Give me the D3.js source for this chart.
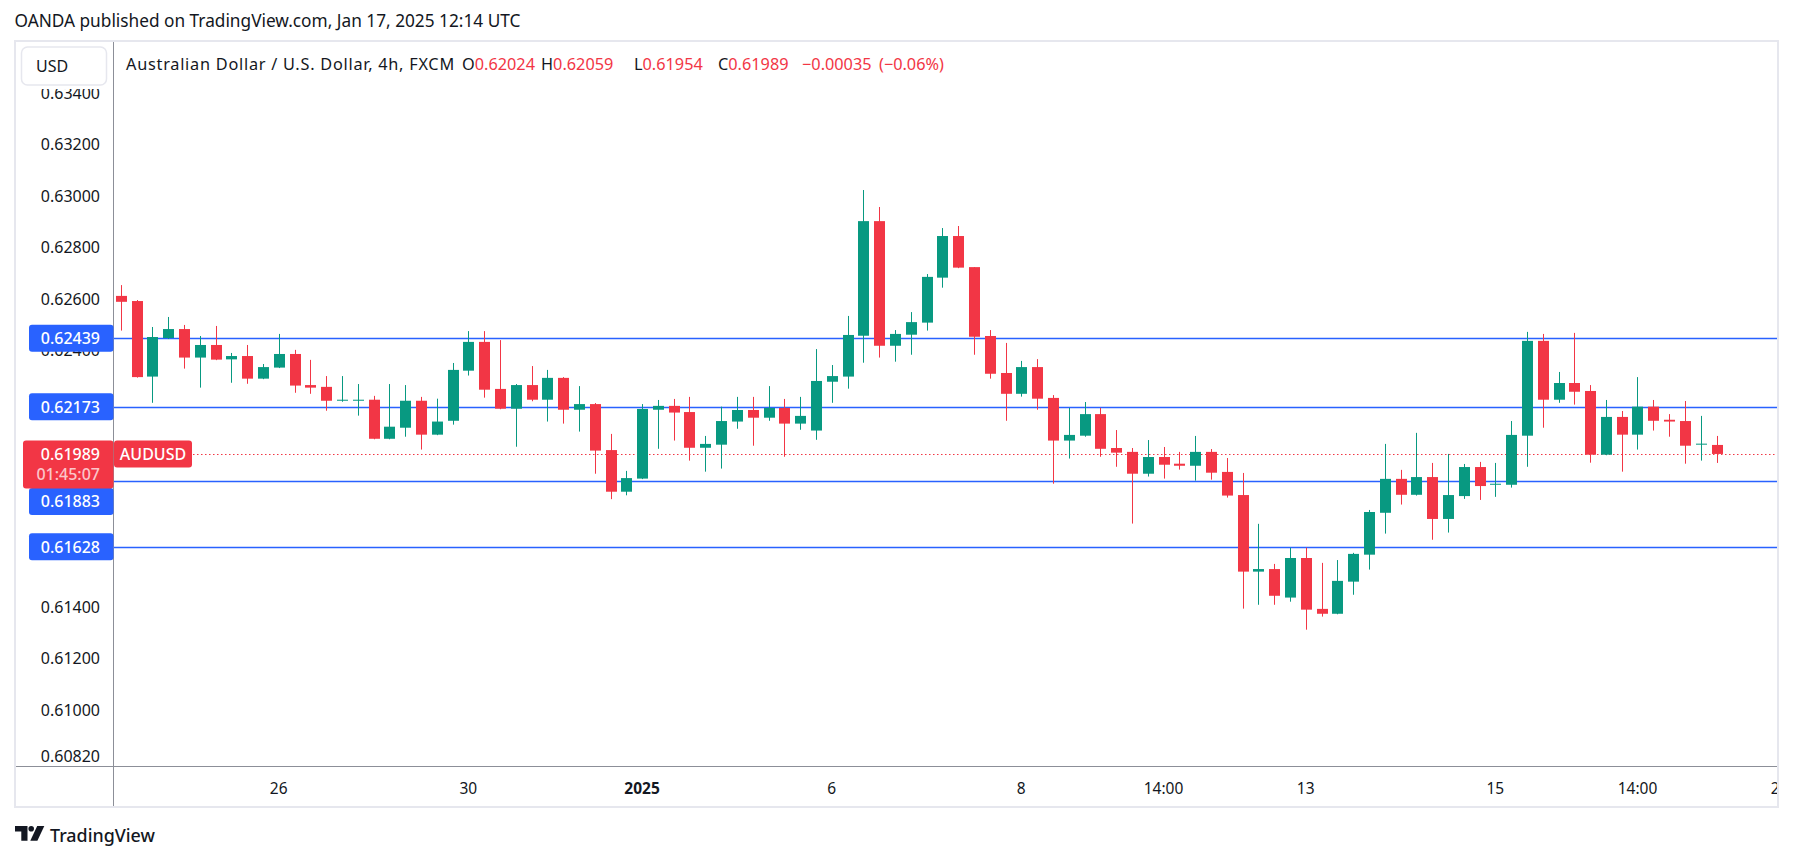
<!DOCTYPE html>
<html><head><meta charset="utf-8">
<script src="https://cdn.jsdelivr.net/npm/d3@7"></script>
<style>
html,body{margin:0;padding:0;background:#ffffff;}
svg{display:block;}
text{font-family:"Noto Sans","Open Sans",sans-serif;}
</style></head><body>
<svg id="chart" width="1793" height="861"></svg>
<script>
// ---------------- DATA ----------------
const opens = [0.62604,0.62584,0.62290,0.62440,0.62475,0.62364,0.62413,0.62357,0.62370,0.62282,
0.62325,0.62378,0.62257,0.62250,0.62196,0.62196,0.62200,0.62048,0.62091,0.62196,
0.62064,0.62118,0.62313,0.62425,0.62242,0.62165,0.62257,0.62200,0.62285,0.62161,
0.62183,0.62004,0.61842,0.61893,0.62161,0.62176,0.62152,0.62013,0.62025,0.62115,
0.62160,0.62130,0.62168,0.62107,0.62080,0.62270,0.62290,0.62449,0.62895,0.62410,
0.62453,0.62500,0.62675,0.62837,0.62716,0.62448,0.62304,0.62223,0.62327,0.62207,
0.62041,0.62060,0.62144,0.62012,0.61997,0.61912,0.61977,0.61951,0.61943,0.61997,
0.61919,0.61829,0.61531,0.61541,0.61430,0.61584,0.61386,0.61367,0.61492,0.61597,
0.61760,0.61892,0.61830,0.61899,0.61736,0.61825,0.61938,0.61869,0.61869,0.62060,
0.62429,0.62200,0.62265,0.62234,0.61986,0.62133,0.62064,0.62173,0.62122,0.62117,
0.62025,0.62024];
const highs = [0.62646,0.62588,0.62483,0.62522,0.62491,0.62448,0.62487,0.62382,0.62413,0.62339,
0.62456,0.62394,0.62355,0.62292,0.62292,0.62261,0.62215,0.62261,0.62257,0.62211,
0.62204,0.62343,0.62467,0.62467,0.62432,0.62261,0.62331,0.62316,0.62288,0.62253,
0.62187,0.62067,0.61923,0.62183,0.62199,0.62203,0.62211,0.62059,0.62173,0.62211,
0.62211,0.62253,0.62203,0.62211,0.62397,0.62335,0.62526,0.63016,0.62950,0.62471,
0.62541,0.62689,0.62868,0.62876,0.62716,0.62471,0.62421,0.62351,0.62358,0.62218,
0.62168,0.62191,0.62168,0.62082,0.62012,0.62043,0.62016,0.61997,0.62059,0.62008,
0.61973,0.61915,0.61717,0.61561,0.61624,0.61624,0.61565,0.61576,0.61604,0.61771,
0.62028,0.61927,0.62071,0.61954,0.61989,0.61950,0.61958,0.61954,0.62117,0.62464,
0.62456,0.62308,0.62460,0.62257,0.62199,0.62156,0.62288,0.62199,0.62144,0.62195,
0.62137,0.62059];
const lows = [0.62469,0.62286,0.62188,0.62436,0.62321,0.62247,0.62354,0.62266,0.62262,0.62280,
0.62323,0.62227,0.62223,0.62157,0.62192,0.62138,0.62046,0.62046,0.62056,0.62006,
0.62062,0.62103,0.62294,0.62208,0.62163,0.62017,0.62194,0.62115,0.62107,0.62076,
0.61912,0.61813,0.61828,0.61891,0.62009,0.62041,0.61963,0.61920,0.61932,0.62087,
0.62021,0.62118,0.61978,0.62083,0.62044,0.62188,0.62243,0.62344,0.62364,0.62348,
0.62375,0.62469,0.62636,0.62712,0.62375,0.62282,0.62118,0.62212,0.62161,0.61873,
0.61971,0.62056,0.61978,0.61939,0.61718,0.61901,0.61893,0.61928,0.61885,0.61889,
0.61819,0.61387,0.61402,0.61402,0.61414,0.61305,0.61356,0.61365,0.61441,0.61539,
0.61679,0.61792,0.61827,0.61655,0.61683,0.61814,0.61810,0.61822,0.61858,0.61939,
0.62091,0.62188,0.62181,0.61955,0.61984,0.61920,0.62006,0.62080,0.62056,0.61951,
0.61963,0.61954];
const closes = [0.62581,0.62288,0.62444,0.62475,0.62364,0.62413,0.62356,0.62370,0.62282,0.62327,
0.62378,0.62255,0.62247,0.62196,0.62200,0.62200,0.62048,0.62095,0.62196,0.62064,
0.62115,0.62316,0.62425,0.62239,0.62165,0.62257,0.62200,0.62285,0.62161,0.62183,
0.62002,0.61842,0.61895,0.62164,0.62176,0.62150,0.62013,0.62028,0.62117,0.62160,
0.62130,0.62168,0.62107,0.62137,0.62273,0.62292,0.62452,0.62895,0.62410,0.62456,
0.62502,0.62678,0.62837,0.62714,0.62445,0.62301,0.62223,0.62327,0.62204,0.62041,
0.62063,0.62144,0.62009,0.61994,0.61912,0.61977,0.61947,0.61943,0.61997,0.61916,
0.61827,0.61531,0.61541,0.61437,0.61584,0.61383,0.61367,0.61495,0.61600,0.61763,
0.61892,0.61830,0.61899,0.61736,0.61829,0.61938,0.61864,0.61873,0.62063,0.62429,
0.62200,0.62265,0.62231,0.61986,0.62133,0.62064,0.62173,0.62118,0.62115,0.62021,
0.62029,0.61989];

// visible price-scale ticks (others are covered by the price labels)
const priceTicks = [0.634,0.632,0.630,0.628,0.626,0.624,0.614,0.612,0.610,0.6082];
const timeTickIndex = [10,22,33,45,57,66,75,87,96,105];
const timeTickLabels = ["26","30","2025","6","8","14:00","13","15","14:00","20"];
const boldTimeLabels = ["2025"];
const levelLines = [0.62439,0.62173,0.61883,0.61628];
const lastPrice = 0.61989;
const countdown = "01:45:07";
const symbolName = "AUDUSD";
const currency = "USD";
const titleText = "OANDA published on TradingView.com, Jan 17, 2025 12:14 UTC";
const legendName = "Australian Dollar / U.S. Dollar, 4h, FXCM";
const legendKeys = ["O","H","L","C"];
const legendVals = [0.62024, 0.62059, 0.61954, 0.61989];
const legendChange = "\u22120.00035", legendPct = "(\u22120.06%)";

// ---------------- STYLE ----------------
const UP = "#089981", DOWN = "#F23645", BLUE = "#2962FF", INK = "#131722";
const AXIS = "#8C8F98", BORDER = "#E6E7EE";
const fmt = d3.format(".5f");

const svg = d3.select("#chart");
const plot = {x0:113, x1:1777, y0:42, y1:766};

const x = d3.scaleLinear().domain([0, 101]).range([120.7, 1716.5]);
const y = d3.scaleLinear().domain([0.61628, 0.62439]).range([546.7, 338.3]);

const defs = svg.append("defs");
defs.append("clipPath").attr("id","plotClip").append("rect")
  .attr("x", plot.x0+1).attr("y", plot.y0).attr("width", plot.x1-plot.x0-1).attr("height", plot.y1-plot.y0);
defs.append("clipPath").attr("id","timeClip").append("rect")
  .attr("x", plot.x0+1).attr("y", plot.y1).attr("width", plot.x1-plot.x0-1).attr("height", 41);
defs.append("clipPath").attr("id","axisClip").append("rect")
  .attr("x", 16).attr("y", 89).attr("width", 96).attr("height", plot.y1-89);

// background
svg.append("rect").attr("width",1793).attr("height",861).attr("fill","#fff");

// price tick labels
svg.append("g").attr("clip-path","url(#axisClip)")
  .selectAll("text").data(priceTicks).join("text")
  .attr("x", 100).attr("y", d => y(d) + 7.6)
  .attr("text-anchor","end").attr("font-size", 16).attr("fill", INK)
  .text(d => fmt(d));

// time labels
svg.append("g").attr("clip-path","url(#timeClip)")
  .selectAll("text").data(timeTickIndex).join("text")
  .attr("x", d => x(d)).attr("y", 793.7)
  .attr("text-anchor","middle").attr("font-size", 15.5).attr("fill", INK)
  .attr("font-weight", (d,i) => boldTimeLabels.includes(timeTickLabels[i]) ? 700 : 400)
  .text((d,i) => timeTickLabels[i]);

// plot content
const pg = svg.append("g").attr("clip-path","url(#plotClip)");

// level lines
pg.selectAll("line.level").data(levelLines).join("line").attr("class","level")
  .attr("x1", plot.x0).attr("x2", plot.x1)
  .attr("y1", d => Math.round(y(d)) + 0.5).attr("y2", d => Math.round(y(d)) + 0.5)
  .attr("stroke", BLUE).attr("stroke-width", 1.3);

// last price dotted line
pg.append("line")
  .attr("x1", plot.x0).attr("x2", plot.x1)
  .attr("y1", Math.round(y(lastPrice)) + 0.5).attr("y2", Math.round(y(lastPrice)) + 0.5)
  .attr("stroke", DOWN).attr("stroke-width", 1.2).attr("stroke-dasharray","1.5,2.5");

// candles
const idx = d3.range(opens.length);
const cg = pg.append("g");
cg.selectAll("line.wick").data(idx).join("line").attr("class","wick")
  .attr("x1", i => Math.round(x(i)) + 0.5).attr("x2", i => Math.round(x(i)) + 0.5)
  .attr("y1", i => y(highs[i])).attr("y2", i => y(lows[i]))
  .attr("stroke", i => closes[i] >= opens[i] ? UP : DOWN).attr("stroke-width", 1);
cg.selectAll("rect.body").data(idx).join("rect").attr("class","body")
  .attr("x", i => Math.round(x(i)) - 5).attr("width", 11)
  .attr("y", i => y(Math.max(opens[i], closes[i])))
  .attr("height", i => Math.max(1, Math.abs(y(opens[i]) - y(closes[i]))))
  .attr("fill", i => closes[i] >= opens[i] ? UP : DOWN);

// axis separator lines & frame
svg.append("line").attr("x1", 113.5).attr("x2", 113.5).attr("y1", 41).attr("y2", 807)
  .attr("stroke", AXIS).attr("stroke-width", 1);
svg.append("line").attr("x1", 15).attr("x2", 1778).attr("y1", 766.5).attr("y2", 766.5)
  .attr("stroke", AXIS).attr("stroke-width", 1);
svg.append("rect").attr("x", 15).attr("y", 41).attr("width", 1763).attr("height", 766)
  .attr("fill","none").attr("stroke", BORDER).attr("stroke-width", 2);

// level price labels (with collision nudge like TradingView)
const lastY = y(lastPrice);
const labelG = svg.append("g");
levelLines.forEach(v => {
  let cy = y(v);
  if (Math.abs(cy - (lastY + 11)) < 38 && cy > lastY) cy = lastY + 11 + 36.5; // pushed below red box
  labelG.append("rect").attr("x", 29).attr("y", cy - 13.5).attr("width", 84.5).attr("height", 27)
    .attr("rx", 3).attr("fill", BLUE);
  labelG.append("text").attr("x", 100).attr("y", cy + 6).attr("text-anchor","end")
    .attr("font-size", 16).attr("font-weight", 500).attr("fill","#fff").text(fmt(v));
});

// last price label (red box with countdown)
labelG.append("rect").attr("x", 23).attr("y", lastY - 13.5).attr("width", 90.5).attr("height", 48)
  .attr("rx", 3).attr("fill", DOWN);
labelG.append("text").attr("x", 100).attr("y", lastY + 5.8).attr("text-anchor","end")
  .attr("font-size", 16).attr("font-weight", 500).attr("fill","#fff").text(fmt(lastPrice));
labelG.append("text").attr("x", 100).attr("y", lastY + 26.5).attr("text-anchor","end")
  .attr("font-size", 16).attr("font-weight", 500).attr("fill","#fff").attr("fill-opacity", 0.72).text(countdown);
// symbol label
labelG.append("rect").attr("x", 114).attr("y", lastY - 13.5).attr("width", 78).attr("height", 27)
  .attr("rx", 3).attr("fill", DOWN);
labelG.append("text").attr("x", 153).attr("y", lastY + 6).attr("text-anchor","middle")
  .attr("font-size", 16).attr("font-weight", 500).attr("fill","#fff").text(symbolName);

// currency box
svg.append("rect").attr("x", 21.5).attr("y", 47).attr("width", 85).attr("height", 38)
  .attr("rx", 6).attr("fill","#fff").attr("stroke", BORDER).attr("stroke-width", 1.5);
svg.append("text").attr("x", 36).attr("y", 71.5).attr("font-size", 16).attr("fill", INK).text(currency);

// legend
const lg = svg.append("g").attr("font-size", 16.3);
const nameT = lg.append("text").attr("x", 126).attr("y", 69.8).attr("fill", INK).text(legendName);
const nw = nameT.node().getComputedTextLength();
nameT.attr("letter-spacing", ((328 - nw) / (legendName.length - 1)).toFixed(2));
const fieldX = [462, 541, 634, 718];
legendKeys.forEach((k, i) => {
  const t = lg.append("text").attr("x", fieldX[i]).attr("y", 69.8);
  t.append("tspan").attr("fill", INK).text(k);
  t.append("tspan").attr("fill", DOWN).text(fmt(legendVals[i]));
});
lg.append("text").attr("x", 802).attr("y", 69.8).attr("fill", DOWN).text(legendChange);
lg.append("text").attr("x", 879).attr("y", 69.8).attr("fill", DOWN).text(legendPct);

// title
const tt = svg.append("text").attr("x", 14.5).attr("y", 27).attr("font-size", 16).attr("fill", INK).text(titleText);
const tw = tt.node().getComputedTextLength();
tt.attr("font-size", 16 * 506 / tw);

// TradingView logo
const logo = svg.append("g").attr("fill", INK);
logo.append("path").attr("d", "M15,826 H27.5 V840.7 H21.3 V831.6 H15 Z");
logo.append("circle").attr("cx", 31.2).attr("cy", 828.8).attr("r", 2.8);
logo.append("path").attr("d", "M37.2,826 H44.3 L37.4,840.7 H30.3 Z");
const lt = svg.append("text").attr("x", 50).attr("y", 841.5).attr("font-size", 19.5)
  .attr("fill", INK).attr("font-weight", 500).text("TradingView");
const lw = lt.node().getComputedTextLength();
lt.attr("font-size", 19.5 * 105 / lw);
</script>
</body></html>
